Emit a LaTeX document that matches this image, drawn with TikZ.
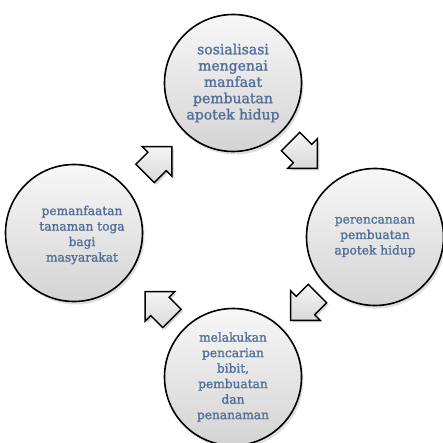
\documentclass[tikz,border=0pt]{standalone}
\usepackage{fontspec}
\setmainfont[FakeBold=1.6]{DejaVu Serif}
\usetikzlibrary{shadows,calc}
\definecolor{textblue}{RGB}{84,112,152}
\tikzset{
  bubble/.style={circle, draw=black, line width=1.6pt, minimum size=137pt, inner sep=0pt,
    top color=gray!6, bottom color=gray!34, align=center, text=textblue,
    font=\fontsize{12.2}{15.5}\selectfont,
    drop shadow={opacity=0.25, shadow xshift=2pt, shadow yshift=-3pt}},
  bubbletext/.style={align=center, text=textblue, inner sep=0pt, font=\fontsize{12.2}{15.5}\selectfont},
  arrowbody/.style={draw=black, line width=1.5pt, line join=miter, top color=gray!8, bottom color=gray!30,
    drop shadow={opacity=0.3, shadow xshift=2pt, shadow yshift=-2pt}},
  cyclearrow/.pic={\path[arrowbody] (-19,-13) -- (-2,-13) -- (-2,-21) -- (19,0) -- (-2,21) -- (-2,13) -- (-19,13) -- cycle;}
}
\begin{document}
\begin{tikzpicture}[x=1pt,y=-1pt]
\path[use as bounding box] (0,0) rectangle (443,443);
\clip (0,0) rectangle (443,443);
\fill[white] (0,0) rectangle (443,443);
\node[bubble, font=\fontsize{14}{16.3}\selectfont] (c1) at (233,83) {sosialisasi\\mengenai\\manfaat\\pembuatan\\apotek hidup};
\node[bubble] (c2) at (375,237) {perencanaan\\pembuatan\\apotek hidup};
\node[bubble] (c3) at (233,377) {melakukan\\pencarian\\bibit,\\pembuatan\\dan\\penanaman};
\node[bubble] (c4) at (74,233) {};
\node[bubbletext] (c4t) at ($(c4)+(8,2)$) {pemanfaatan\\tanaman toga\\bagi\\masyarakat};
\pic[rotate=45] at ($(c4)!0.5!(c1)+(5,2)$) {cyclearrow};
\pic[rotate=-45] at ($(c1)!0.5!(c2)+(0,-5)$) {cyclearrow};
\pic[rotate=-135] at ($(c2)!0.5!(c3)+(0,0)$) {cyclearrow};
\pic[rotate=135] at ($(c3)!0.5!(c4)+(5,0)$) {cyclearrow};
\end{tikzpicture}
\end{document}
